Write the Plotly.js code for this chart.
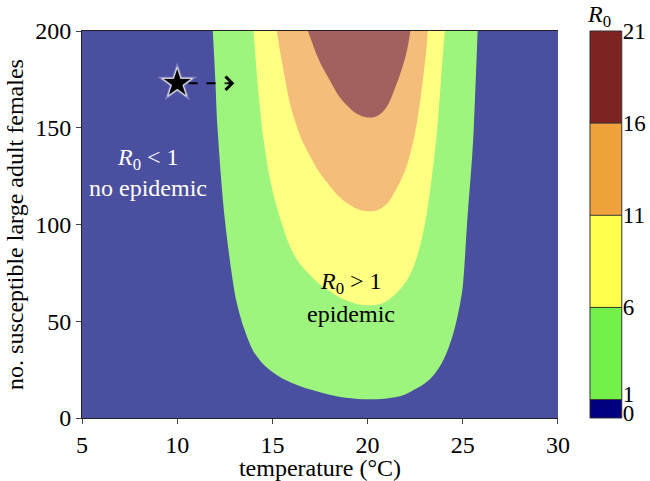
<!DOCTYPE html>
<html>
<head>
<meta charset="utf-8">
<script src="https://cdn.plot.ly/plotly-3.0.1.min.js"></script>
<style>
  html, body { margin: 0; padding: 0; background: #ffffff; }
  #chart { width: 650px; height: 481px; }
</style>
</head>
<body>
<div id="chart"></div>
<script>
/*
  R0 contour map: temperature vs number of susceptible large adult females.
*/

// grid
const temperature = [5, 10, 11, 11.5, 12, 12.5, 13, 13.5, 14, 14.5, 15, 15.5, 16, 16.5, 17, 17.5, 18, 18.5, 19,
    19.5, 20, 20.5, 21, 21.5, 22, 22.5, 23, 23.5, 24, 24.5, 25, 25.25, 25.5, 25.75, 26, 26.5, 30];
const females = [0, 15, 30, 60, 100, 150, 200];

// R0 at each (females row, temperature column)
const r0 = [
    [0, 0, 0, 0, 0, 0, 0, 0, 0, 0, 0, 0, 0, 0, 0, 0, 0, 0, 0,
        0, 0, 0, 0, 0, 0, 0, 0, 0, 0, 0, 0, 0, 0, 0, 0, 0, 0],
    [0, 0, 0.02, 0.05, 0.09, 0.15, 0.23, 0.32, 0.43, 0.54, 0.63, 0.73, 0.82, 0.92, 1.02, 1.13, 1.25, 1.36, 1.46,
        1.52, 1.55, 1.54, 1.49, 1.39, 1.22, 1.01, 0.84, 0.67, 0.5, 0.35, 0.23, 0.14, 0.11, 0.08, 0.05, 0.02, 0],
    [0, 0, 0.03, 0.09, 0.17, 0.29, 0.45, 0.64, 0.86, 1.07, 1.26, 1.46, 1.65, 1.84, 2.04, 2.26, 2.5, 2.73, 2.91,
        3.03, 3.09, 3.08, 2.97, 2.78, 2.44, 2.03, 1.69, 1.33, 0.99, 0.7, 0.45, 0.29, 0.22, 0.16, 0.11, 0.03, 0],
    [0, 0, 0.06, 0.18, 0.34, 0.58, 0.91, 1.29, 1.79, 2.46, 3.06, 3.59, 4.14, 4.56, 4.89, 5.22, 5.49, 5.77, 5.97,
        6.12, 6.18, 6.15, 5.97, 5.58, 5.13, 4.47, 3.61, 2.67, 1.86, 1.36, 0.88, 0.57, 0.44, 0.31, 0.21, 0.06, 0],
    [0, 0, 0.1, 0.3, 0.57, 0.97, 1.52, 2.15, 2.98, 4.1, 5.1, 5.98, 6.9, 7.6, 8.15, 8.7, 9.15, 9.62, 9.95,
        10.2, 10.3, 10.25, 9.95, 9.3, 8.55, 7.45, 6.02, 4.45, 3.1, 2.27, 1.47, 0.95, 0.73, 0.52, 0.35, 0.1, 0],
    [0, 0, 0.15, 0.45, 0.86, 1.46, 2.28, 3.23, 4.47, 6.15, 7.65, 8.97, 10.35, 11.4, 12.23, 13.05, 13.73, 14.43, 14.93,
        15.3, 15.45, 15.38, 14.93, 13.95, 12.83, 11.18, 9.03, 6.68, 4.65, 3.41, 2.21, 1.43, 1.1, 0.78, 0.53, 0.15, 0],
    [0, 0, 0.2, 0.6, 1.14, 1.94, 3.04, 4.3, 5.96, 8.2, 10.2, 11.96, 13.8, 15.2, 16.3, 17.4, 18.3, 19.24, 19.9,
        20.4, 20.6, 20.5, 19.9, 18.6, 17.1, 14.9, 12.04, 8.9, 6.2, 4.54, 2.94, 1.9, 1.46, 1.04, 0.7, 0.2, 0],
];

// colour bar bands and where their labels sit
const bandEdges = [0, 1, 6, 11, 16, 21];
const bandIndex = [[0], [1], [2], [3], [4]];
const bandLabelAt = [0.3, 1.3, 6, 11, 16, 21];

// starting point and arrow
const starTemperature = [10];
const starFemales = [173];
const arrowEndTemperature = 13;

const FONT = 'Liberation Serif, Times New Roman, serif';
const bandColors = ['#000080', '#74f04a', '#ffff4c', '#f0a33c', '#7f2222'];
const fillColors = ['#4b4f9f', '#9df57e', '#ffff82', '#f4be7a', '#a2615e'];

function stepScale(colors) {
    const scale = [];
    colors.forEach((c, i) => {
        scale.push([i / colors.length, c]);
        scale.push([(i + 1) / colors.length, c]);
    });
    return scale;
}

const traces = [
    {
        type: 'contour',
        x: temperature,
        y: females,
        z: r0,
        autocontour: false,
        contours: { start: 1, end: 16, size: 5, coloring: 'fill', showlines: false },
        line: { width: 0, smoothing: 1 },
        colorscale: fillColors.map((c, i) => [i / (fillColors.length - 1), c]),
        showscale: false,
        hoverinfo: 'skip',
    },
    {
        type: 'scatter',
        x: [starTemperature[0] + 0.6, arrowEndTemperature - 0.45],
        y: [starFemales[0], starFemales[0]],
        mode: 'lines',
        line: { color: '#000000', width: 2, dash: 'dash' },
        hoverinfo: 'skip',
    },
    {
        // soft halo behind the star
        type: 'scatter',
        x: starTemperature,
        y: starFemales,
        mode: 'markers',
        marker: { symbol: 'star', size: 30, color: 'rgba(235,235,255,0.35)' },
        hoverinfo: 'skip',
    },
    {
        type: 'scatter',
        x: starTemperature,
        y: starFemales,
        mode: 'markers',
        marker: { symbol: 'star', size: 23, color: '#000000', line: { color: 'rgba(255,255,255,0.75)', width: 1.2 } },
        hoverinfo: 'skip',
    },
    {
        type: 'heatmap',
        x: [0, 1],
        y: bandEdges,
        z: bandIndex,
        xaxis: 'x2',
        yaxis: 'y2',
        zmin: 0,
        zmax: 5,
        colorscale: stepScale(bandColors),
        showscale: false,
        hoverinfo: 'skip',
    },
];

const shapes = bandEdges.slice(1, -1).map(v => ({
    type: 'line', xref: 'x2 domain', yref: 'y2', x0: 0, x1: 1, y0: v, y1: v,
    line: { color: '#333333', width: 1 },
}));
shapes.push({
    type: 'rect', xref: 'x2 domain', yref: 'y2 domain', x0: 0, x1: 1, y0: 0, y1: 1,
    line: { color: '#333333', width: 1 },
});

const textFont = { family: FONT, size: 24, color: '#000000' };

Plotly.newPlot('chart', traces, {
    width: 650,
    height: 481,
    margin: { l: 82, r: 20, t: 31, b: 63 },
    paper_bgcolor: '#ffffff',
    plot_bgcolor: '#ffffff',
    showlegend: false,
    font: textFont,
    xaxis: {
        domain: [0, 0.8686],
        range: [5, 30],
        tickvals: [5, 10, 15, 20, 25, 30],
        ticks: 'outside',
        ticklen: 5,
        showline: true,
        mirror: true,
        linecolor: '#222222',
        linewidth: 1,
        showgrid: false,
        zeroline: false,
        tickfont: textFont,
        title: { text: 'temperature (°C)', font: textFont, standoff: 0 },
    },
    yaxis: {
        range: [0, 200],
        tickvals: [0, 50, 100, 150, 200],
        ticks: 'outside',
        ticklen: 5,
        showline: true,
        linecolor: '#222222',
        linewidth: 1,
        showgrid: false,
        zeroline: false,
        tickfont: textFont,
        title: { text: 'no. susceptible large adult females', font: textFont, standoff: 4 },
    },
    xaxis2: {
        domain: [0.927, 0.985],
        anchor: 'y2',
        range: [0, 1],
        visible: false,
    },
    yaxis2: {
        domain: [0, 1],
        anchor: 'x2',
        side: 'right',
        range: [0, 21],
        tickvals: bandLabelAt,
        ticktext: bandEdges.map(String),
        ticks: '',
        showgrid: false,
        zeroline: false,
        showline: false,
        tickfont: { family: FONT, size: 23, color: '#000000' },
    },
    shapes: shapes,
    annotations: [
        {
            x: 8.47, y: 134, xref: 'x', yref: 'y', showarrow: false,
            text: '<i>R</i><sub>0</sub> &lt; 1', font: { family: FONT, size: 24, color: '#ffffff' },
        },
        {
            x: 8.47, y: 119, xref: 'x', yref: 'y', showarrow: false,
            text: 'no epidemic', font: { family: FONT, size: 24, color: '#ffffff' },
        },
        {
            x: 19.13, y: 70, xref: 'x', yref: 'y', showarrow: false,
            text: '<i>R</i><sub>0</sub> &gt; 1', font: textFont,
        },
        {
            x: 19.13, y: 54, xref: 'x', yref: 'y', showarrow: false,
            text: 'epidemic', font: textFont,
        },
        {
            x: arrowEndTemperature, y: starFemales[0], ax: arrowEndTemperature - 0.5, ay: starFemales[0],
            xref: 'x', yref: 'y', axref: 'x', ayref: 'y',
            showarrow: true, arrowhead: 4, arrowsize: 1.3, arrowwidth: 2, arrowcolor: '#000000', text: '',
        },
        {
            x: 0.918, y: 1.039, xref: 'paper', yref: 'paper', xanchor: 'left', yanchor: 'middle', showarrow: false,
            text: '<i>R</i><sub>0</sub>', font: textFont,
        },
    ],
}, { displayModeBar: false, staticPlot: true });
</script>
</body>
</html>
